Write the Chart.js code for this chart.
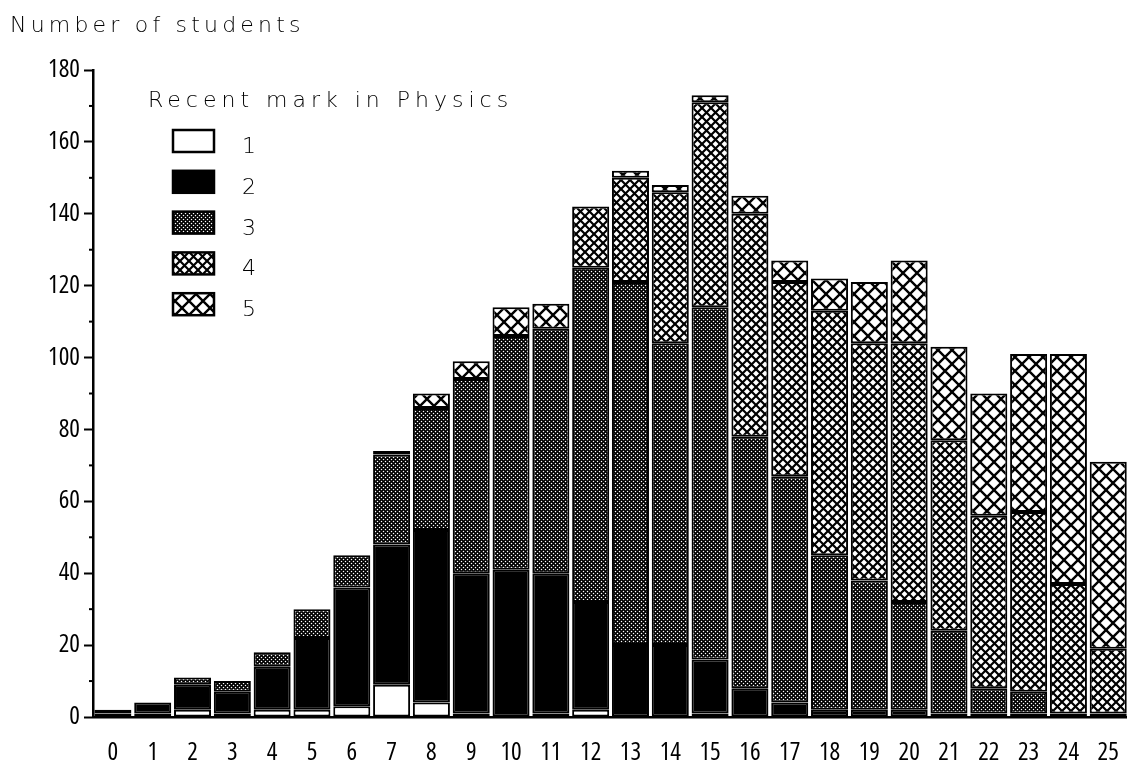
<!DOCTYPE html>
<html>
<head>
<meta charset="utf-8">
<script src="https://cdn.jsdelivr.net/npm/chart.js"></script>
<style>
  html, body { margin: 0; padding: 0; background: #fff; overflow: hidden; }
</style>
</head>
<body>
<canvas id="myChart" width="1140" height="761"></canvas>
<script>
// total score on the test (x axis)
const scores = ["0", "1", "2", "3", "4", "5", "6", "7", "8", "9", "10", "11", "12",
  "13", "14", "15", "16", "17", "18", "19", "20", "21", "22", "23", "24", "25"];

// number of students per recent mark in physics
const mark1 = [1, 1, 2, 1, 2, 2, 3, 9, 4, 1, 0, 1, 2, 0, 0, 1, 0, 0, 0, 0, 0, 0, 0, 0, 0, 0];
const mark2 = [1, 3, 7, 6, 12, 20, 33, 39, 48, 39, 41, 39, 30, 20, 20, 15, 8, 4, 2, 2, 2, 1, 1, 1, 0, 0];
const mark3 = [0, 0, 2, 3, 4, 8, 9, 25, 34, 54, 65, 68, 93, 101, 84, 98, 70, 63, 43, 36, 30, 23, 7, 6, 1, 1];
const mark4 = [0, 0, 0, 0, 0, 0, 0, 1, 0, 0, 0, 0, 17, 29, 42, 57, 62, 54, 68, 66, 72, 53, 48, 50, 36, 18];
const mark5 = [0, 0, 0, 0, 0, 0, 0, 0, 4, 5, 8, 7, 0, 2, 2, 2, 5, 6, 9, 17, 23, 26, 34, 44, 64, 52];

const markNames = ["1", "2", "3", "4", "5"];
const yTitle = "Number of students";
const legendTitle = "Recent mark in Physics";

const thinFont = "'DejaVu Sans', sans-serif";

// the tick digits are tall and narrow: take the narrowest installed face
function narrowFont(size) {
  const c = document.createElement("canvas").getContext("2d");
  const cands = [
    { weight: "normal", family: "'DejaVu Sans Condensed', 'DejaVu Sans', sans-serif" },
    { weight: "normal", family: "'Liberation Sans Narrow', sans-serif" },
    { weight: "normal condensed", family: "'Noto Sans', sans-serif" },
    { weight: "normal condensed", family: "'Open Sans', sans-serif" }
  ];
  let best = cands[0], bw = Infinity;
  cands.forEach(f => {
    c.font = "10px serif";
    c.font = "normal " + f.weight + " " + size + "px " + f.family;
    const w = c.measureText("1802468").width;
    if (c.font.indexOf("serif") !== 0 && w < bw - 0.5) { bw = w; best = f; }
  });
  return { family: best.family, weight: best.weight, size: size };
}

function hatch(size, lw) {
  const c = document.createElement("canvas");
  c.width = c.height = size;
  const x = c.getContext("2d");
  x.fillStyle = "#fff";
  x.fillRect(0, 0, size, size);
  x.strokeStyle = "#000";
  x.lineWidth = lw;
  for (let k = -1; k <= 1; k++) {
    x.beginPath();
    x.moveTo(k * size, 0);
    x.lineTo(k * size + size, size);
    x.moveTo(k * size + size, 0);
    x.lineTo(k * size, size);
    x.stroke();
  }
  return x.createPattern(c, "repeat");
}

// black with small white dots on a diagonal lattice
function stipple() {
  const c = document.createElement("canvas");
  c.width = c.height = 8;
  const x = c.getContext("2d");
  x.fillStyle = "#000";
  x.fillRect(0, 0, 8, 8);
  x.fillStyle = "#fff";
  const pts = [[1.5, 1.5], [5.5, 1.5], [3.5, 3.5], [7.5, 3.5], [1.5, 5.5], [5.5, 5.5], [3.5, 7.5], [7.5, 7.5]];
  pts.forEach(p => {
    for (let dx = -8; dx <= 8; dx += 8) {
      for (let dy = -8; dy <= 8; dy += 8) {
        x.beginPath();
        x.arc(p[0] + dx, p[1] + dy, 0.75, 0, Math.PI * 2);
        x.fill();
      }
    }
  });
  return x.createPattern(c, "repeat");
}

const fills = ["#ffffff", "#000000", stipple(), hatch(9, 2.2), hatch(14, 2.4)];
const series = [mark1, mark2, mark3, mark4, mark5];

const extras = {
  id: "extras",
  afterDraw(chart) {
    const ctx = chart.ctx;
    const y = chart.scales.y;
    ctx.save();
    // short minor ticks on the y axis
    ctx.strokeStyle = "#000";
    ctx.lineWidth = 2;
    y.ticks.forEach(t => {
      if (t.value % 20 !== 0) {
        const py = y.getPixelForValue(t.value);
        ctx.beginPath();
        ctx.moveTo(y.right - 4, py);
        ctx.lineTo(y.right, py);
        ctx.stroke();
      }
    });
    // axis title and legend title
    ctx.fillStyle = "#000";
    ctx.font = "200 22px " + thinFont;
    ctx.textBaseline = "alphabetic";
    ctx.letterSpacing = "4.2px";
    ctx.fillText(yTitle, 10, 32);
    ctx.letterSpacing = "5px";
    ctx.fillText(legendTitle, 148, 107);
    // legend entries
    ctx.letterSpacing = "0px";
    chart.data.datasets.forEach((ds, i) => {
      const top = 130 + i * 40.8;
      ctx.fillStyle = ds.backgroundColor;
      ctx.fillRect(173, top, 41, 22);
      ctx.lineWidth = 2.5;
      ctx.strokeRect(173, top, 41, 22);
      ctx.fillStyle = "#000";
      ctx.font = "200 22px " + thinFont;
      ctx.fillText(ds.label, 242, top + 23);
    });
    ctx.restore();
  }
};

new Chart("myChart", {
  type: "bar",
  data: {
    labels: scores,
    datasets: series.map((d, i) => ({
      label: markNames[i],
      data: d,
      backgroundColor: fills[i],
      borderColor: "#000",
      borderWidth: 2,
      borderSkipped: false,
      barPercentage: 0.93,
      categoryPercentage: 1
    }))
  },
  options: {
    responsive: false,
    animation: false,
    layout: { padding: { top: 70, right: 7, left: 0, bottom: 0 } },
    plugins: {
      legend: { display: false },
      tooltip: { enabled: false }
    },
    scales: {
      x: {
        stacked: true,
        grid: { display: false, drawTicks: false },
        border: { color: "#000", width: 2.5 },
        ticks: { color: "#000", font: narrowFont(25), padding: 21 },
        afterFit(s) { s.height = 44; }
      },
      y: {
        stacked: true,
        min: 0,
        max: 180,
        ticks: {
          stepSize: 10,
          autoSkip: false,
          color: "#000",
          font: narrowFont(25),
          padding: 4,
          callback: v => (v % 20 === 0 ? v : "")
        },
        grid: {
          drawOnChartArea: false,
          tickLength: 9,
          tickWidth: 2,
          tickColor: c => (c.tick && c.tick.value % 20 === 0 ? "#000" : "rgba(0,0,0,0)")
        },
        border: { color: "#000", width: 2.5 },
        afterFit(s) { s.width = 93; }
      }
    }
  },
  plugins: [extras]
});
</script>
</body>
</html>
